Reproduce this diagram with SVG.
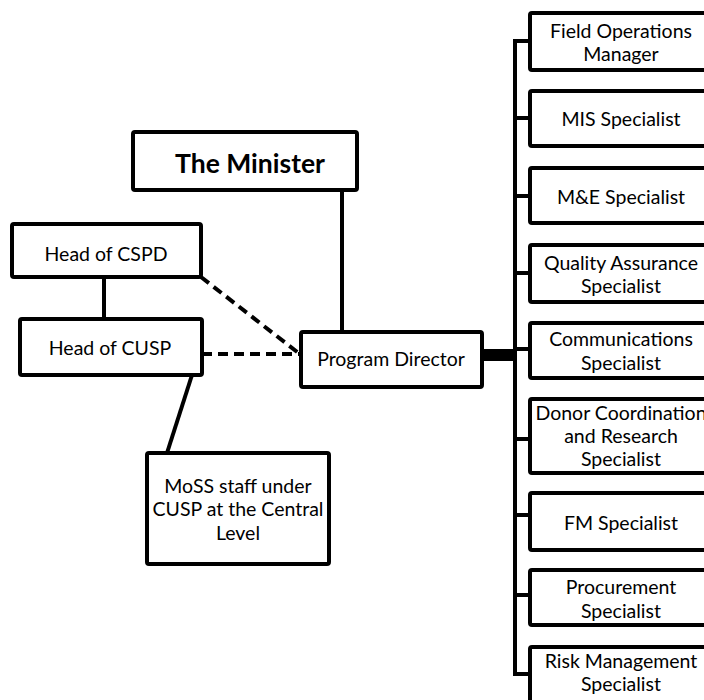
<svg xmlns="http://www.w3.org/2000/svg" width="704" height="700" viewBox="0 0 704 700">
<style>
.box{fill:#fff;stroke:#000;stroke-width:4}
.t{font-family:Lato,"Open Sans",sans-serif;font-size:19.5px;fill:#000;text-anchor:middle;dominant-baseline:central}
.b{font-weight:bold;font-size:26.5px}
.ln{stroke:#000;stroke-width:4;fill:none}
.d{stroke-dasharray:10 6}
</style>
<rect width="704" height="700" fill="#fff"/>
<g id="connectors">
<line class="ln" x1="342" y1="190" x2="342" y2="333"/>
<line class="ln" x1="104" y1="277" x2="104" y2="330"/>
<line class="ln d" x1="201" y1="277" x2="301" y2="355"/>
<line class="ln d" x1="202" y1="354" x2="301" y2="354"/>
<line class="ln" x1="192" y1="375" x2="167" y2="453"/>
<line stroke="#000" stroke-width="12" x1="482" y1="355" x2="515" y2="355"/>
<line class="ln" x1="515" y1="39" x2="515" y2="676"/>
<line class="ln" x1="513" y1="41" x2="531" y2="41"/>
<line class="ln" x1="513" y1="118" x2="531" y2="118"/>
<line class="ln" x1="513" y1="196" x2="531" y2="196"/>
<line class="ln" x1="513" y1="273" x2="531" y2="273"/>
<line class="ln" x1="513" y1="349" x2="531" y2="349"/>
<line class="ln" x1="513" y1="439" x2="531" y2="439"/>
<line class="ln" x1="513" y1="515" x2="531" y2="515"/>
<line class="ln" x1="513" y1="595" x2="531" y2="595"/>
<line class="ln" x1="513" y1="674" x2="531" y2="674"/>
</g>
<g id="minister"><rect class="box" x="133" y="132" width="224" height="58" rx="2"/><text class="t b" x="250" y="163">The Minister</text></g>
<g id="cspd"><rect class="box" x="12" y="224" width="189" height="53" rx="2"/><text class="t" x="106" y="253">Head of CSPD</text></g>
<g id="cusp"><rect class="box" x="20" y="319" width="182" height="56" rx="2"/><text class="t" x="110" y="347">Head of CUSP</text></g>
<g id="pd"><rect class="box" x="301" y="332" width="181" height="55" rx="2"/><text class="t" x="391" y="358">Program Director</text></g>
<g id="moss"><rect class="box" x="147" y="453" width="182" height="111" rx="2"/><text class="t" x="238" y="485">MoSS staff under</text><text class="t" x="238" y="508">CUSP at the Central</text><text class="t" x="238" y="532">Level</text></g>
<g id="fom"><rect class="box" x="530" y="13" width="190" height="57" rx="2"/><text class="t" x="621" y="30">Field Operations</text><text class="t" x="621" y="53">Manager</text></g>
<g id="mis"><rect class="box" x="530" y="91" width="190" height="55" rx="2"/><text class="t" x="621" y="118">MIS Specialist</text></g>
<g id="me"><rect class="box" x="530" y="168" width="190" height="55" rx="2"/><text class="t" x="621" y="196">M&amp;E Specialist</text></g>
<g id="qa"><rect class="box" x="530" y="245" width="190" height="57" rx="2"/><text class="t" x="621" y="262">Quality Assurance</text><text class="t" x="621" y="285">Specialist</text></g>
<g id="comm"><rect class="box" x="530" y="323" width="190" height="55" rx="2"/><text class="t" x="621" y="338">Communications</text><text class="t" x="621" y="362">Specialist</text></g>
<g id="donor"><rect class="box" x="530" y="399" width="190" height="74" rx="2"/><text class="t" x="621" y="412">Donor Coordination</text><text class="t" x="621" y="435">and Research</text><text class="t" x="621" y="458">Specialist</text></g>
<g id="fm"><rect class="box" x="530" y="493" width="190" height="57" rx="2"/><text class="t" x="621" y="522">FM Specialist</text></g>
<g id="proc"><rect class="box" x="530" y="570" width="190" height="55" rx="2"/><text class="t" x="621" y="586">Procurement</text><text class="t" x="621" y="610">Specialist</text></g>
<g id="risk"><rect class="box" x="530" y="647" width="190" height="60" rx="2"/><text class="t" x="621" y="660">Risk Management</text><text class="t" x="621" y="683">Specialist</text></g>
</svg>
